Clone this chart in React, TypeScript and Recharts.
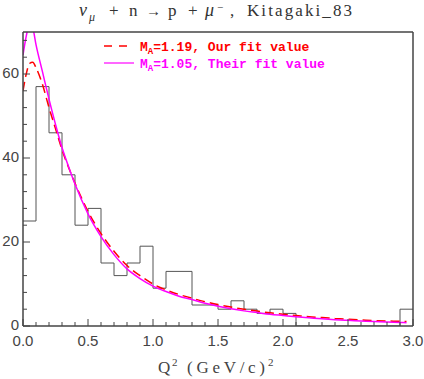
import React from "react";
import { ComposedChart, Line, XAxis, YAxis } from "recharts";

// Histogram (Kitagaki_83 data), bin lower edges and counts
const binEdges = [0.0, 0.1, 0.2, 0.3, 0.4, 0.5, 0.6, 0.7, 0.8, 0.9, 1.0, 1.1, 1.2, 1.3, 1.4, 1.5, 1.6, 1.7, 1.8, 1.9, 2.0, 2.1, 2.2, 2.3, 2.4, 2.5, 2.6, 2.7, 2.8, 2.9, 3.0];
const histCounts = [25, 57, 46, 36, 24, 28, 15, 12, 15, 19, 9, 13, 13, 5, 5, 4, 6, 4, 3, 4, 3, 0, 0, 0, 0, 0, 0, 0, 0, 4];

// Fit curves
const curveQ = [0.0, 0.025, 0.05, 0.075, 0.1, 0.15, 0.2, 0.25, 0.3, 0.35, 0.4, 0.5, 0.6, 0.7, 0.8, 0.9, 1.0, 1.1, 1.2, 1.3, 1.4, 1.5, 1.6, 1.7, 1.8, 1.9, 2.0, 2.1, 2.2, 2.3, 2.4, 2.5, 2.6, 2.7, 2.8, 2.9, 2.95];
const fitOurs = [56, 60, 62.5, 62.8, 61.5, 57.5, 52, 47, 42, 37.8, 34, 27.3, 22, 17.8, 14.4, 12, 10, 8.6, 7.5, 6.6, 5.8, 5.1, 4.5, 4.0, 3.55, 3.15, 2.8, 2.5, 2.2, 2.0, 1.8, 1.6, 1.45, 1.3, 1.2, 1.1, 1.05];
const fitTheirs = [64.5, 69, 72, 71, 67, 60.5, 54, 48, 42.5, 38, 33.8, 26.7, 21.3, 17, 13.6, 11.3, 9.5, 8.2, 7.1, 6.3, 5.4, 4.7, 4.1, 3.6, 3.2, 2.8, 2.5, 2.2, 1.95, 1.7, 1.5, 1.35, 1.2, 1.05, 0.95, 0.85, 0.8];

const xTicks = [0.0, 0.1, 0.2, 0.3, 0.4, 0.5, 0.6, 0.7, 0.8, 0.9, 1.0, 1.1, 1.2, 1.3, 1.4, 1.5, 1.6, 1.7, 1.8, 1.9, 2.0, 2.1, 2.2, 2.3, 2.4, 2.5, 2.6, 2.7, 2.8, 2.9, 3.0];
const xMajor = [0.0, 0.5, 1.0, 1.5, 2.0, 2.5, 3.0];
const yTicks = [0, 4, 8, 12, 16, 20, 24, 28, 32, 36, 40, 44, 48, 52, 56, 60, 64, 68];
const yMajor = [0, 20, 40, 60];

const histData = binEdges.map((q, i) => ({ q, n: histCounts[Math.min(i, histCounts.length - 1)] }));
const oursData = curveQ.map((q, i) => ({ q, v: fitOurs[i] }));
const theirsData = curveQ.map((q, i) => ({ q, v: fitTheirs[i] }));

const AX = "#444";
const TICK_FONT = "'Liberation Sans', Arial, sans-serif";
const MONO = "'Liberation Mono', 'Courier New', monospace";
const SERIF = "'Liberation Serif', 'Times New Roman', serif";

const isMajorX = (v: number) => xMajor.some((m) => Math.abs(m - v) < 1e-6);
const isMajorY = (v: number) => yMajor.includes(v);

const BottomTick = (props: any) => {
  const { x, y, payload } = props;
  const major = isMajorX(payload.value);
  return (
    <g>
      <line x1={x} x2={x} y1={y} y2={y - (major ? 7 : 4)} stroke={AX} strokeWidth={1} />
      {major && (
        <text x={x} y={y + 19.5} textAnchor="middle" fontSize={15} fontFamily={TICK_FONT} fill="#444">
          {payload.value.toFixed(1)}
        </text>
      )}
    </g>
  );
};

const TopTick = (props: any) => {
  const { x, y, payload } = props;
  const major = isMajorX(payload.value);
  return <line x1={x} x2={x} y1={y} y2={y + (major ? 7 : 4)} stroke={AX} strokeWidth={1} />;
};

const LeftTick = (props: any) => {
  const { x, y, payload } = props;
  const major = isMajorY(payload.value);
  return (
    <g>
      <line x1={x} x2={x + (major ? 7 : 4)} y1={y} y2={y} stroke={AX} strokeWidth={1} />
      {major && (
        <text x={x - 4} y={y + 4} textAnchor="end" fontSize={15} fontFamily={TICK_FONT} fill="#444">
          {payload.value}
        </text>
      )}
    </g>
  );
};

const RightTick = (props: any) => {
  const { x, y, payload } = props;
  const major = isMajorY(payload.value);
  return <line x1={x} x2={x - (major ? 7 : 4)} y1={y} y2={y} stroke={AX} strokeWidth={1} />;
};

const T = (p: any) => (
  <text fontFamily={SERIF} fill="#333" fontSize={17} {...p} />
);

export default function App() {
  return (
    <div style={{ position: "absolute", left: 0, top: 0, width: 424, height: 379, background: "#fff" }}>
      <ComposedChart
        width={424}
        height={379}
        margin={{ top: 31, right: 0, bottom: 23, left: 0 }}
      >
        <XAxis
          xAxisId="b"
          dataKey="q"
          type="number"
          domain={[0, 3]}
          ticks={xTicks}
          interval={0}
          allowDataOverflow
          height={30}
          tickSize={0}
          tickMargin={0}
          tickLine={false}
          tick={<BottomTick />}
          axisLine={{ stroke: AX, strokeWidth: 1.5 }}
        />
        <XAxis
          xAxisId="t"
          orientation="top"
          dataKey="q"
          type="number"
          domain={[0, 3]}
          ticks={xTicks}
          interval={0}
          height={1}
          tickSize={0}
          tickMargin={0}
          tickLine={false}
          tick={<TopTick />}
          axisLine={{ stroke: AX, strokeWidth: 1.5 }}
        />
        <YAxis
          yAxisId="l"
          type="number"
          domain={[0, 70]}
          ticks={yTicks}
          interval={0}
          allowDataOverflow
          width={23}
          tickSize={0}
          tickMargin={0}
          tickLine={false}
          tick={<LeftTick />}
          axisLine={{ stroke: AX, strokeWidth: 1.5 }}
        />
        <YAxis
          yAxisId="r"
          orientation="right"
          type="number"
          domain={[0, 70]}
          ticks={yTicks}
          interval={0}
          width={11}
          tickSize={0}
          tickMargin={0}
          tickLine={false}
          tick={<RightTick />}
          axisLine={{ stroke: AX, strokeWidth: 1.5 }}
        />
        <Line
          xAxisId="b"
          yAxisId="l"
          data={histData}
          dataKey="n"
          type="stepAfter"
          stroke="#555"
          strokeWidth={1}
          dot={false}
          isAnimationActive={false}
        />
        <Line
          xAxisId="b"
          yAxisId="l"
          data={oursData}
          dataKey="v"
          type="monotone"
          stroke="#ff0000"
          strokeWidth={1.5}
          strokeDasharray="9 5"
          dot={false}
          isAnimationActive={false}
        />
        <Line
          xAxisId="b"
          yAxisId="l"
          data={theirsData}
          dataKey="v"
          type="monotone"
          stroke="#ff00ff"
          strokeWidth={1.5}
          dot={false}
          isAnimationActive={false}
        />
      </ComposedChart>
      <svg
        width={424}
        height={379}
        style={{ position: "absolute", left: 0, top: 0, pointerEvents: "none" }}
      >
        {/* Title */}
        <T x={79} y={16} fontStyle="italic" fontSize={18}>ν</T>
        <T x={89} y={21} fontStyle="italic" fontSize={12}>μ</T>
        <T x={109} y={16}>+</T>
        <T x={129} y={16}>n</T>
        <T x={146} y={16} fontSize={15}>→</T>
        <T x={168} y={16}>p</T>
        <T x={188} y={16}>+</T>
        <T x={205} y={16} fontStyle="italic" fontSize={18}>μ</T>
        <T x={217} y={11} fontSize={11}>−</T>
        <T x={230} y={16}>,</T>
        <T x={247} y={16} textLength={105} lengthAdjust="spacing">Kitagaki_83</T>

        {/* Legend */}
        <line x1={104} x2={134} y1={46} y2={46} stroke="#ff0000" strokeWidth={1.5} strokeDasharray="8 7" />
        <text x={140} y={51} fontSize={13} fontWeight="bold" fontFamily={MONO} fill="#ff0000">
          <tspan>M</tspan>
          <tspan fontSize={9} dy={3}>A</tspan>
          <tspan dy={-3}>=1.19, Our fit value</tspan>
        </text>
        <line x1={104} x2={134} y1={63} y2={63} stroke="#ff00ff" strokeWidth={1.2} />
        <text x={140} y={68} fontSize={13} fontWeight="bold" fontFamily={MONO} fill="#ff00ff">
          <tspan>M</tspan>
          <tspan fontSize={9} dy={3}>A</tspan>
          <tspan dy={-3}>=1.05, Their fit value</tspan>
        </text>

        {/* X axis title */}
        <T x={158} y={373} fill="#444">Q</T>
        <T x={172} y={366} fontSize={11} fill="#444">2</T>
        <T x={187} y={373} fill="#444" textLength={78} lengthAdjust="spacing">(GeV/c)</T>
        <T x={268} y={366} fontSize={11} fill="#444">2</T>
      </svg>
    </div>
  );
}
